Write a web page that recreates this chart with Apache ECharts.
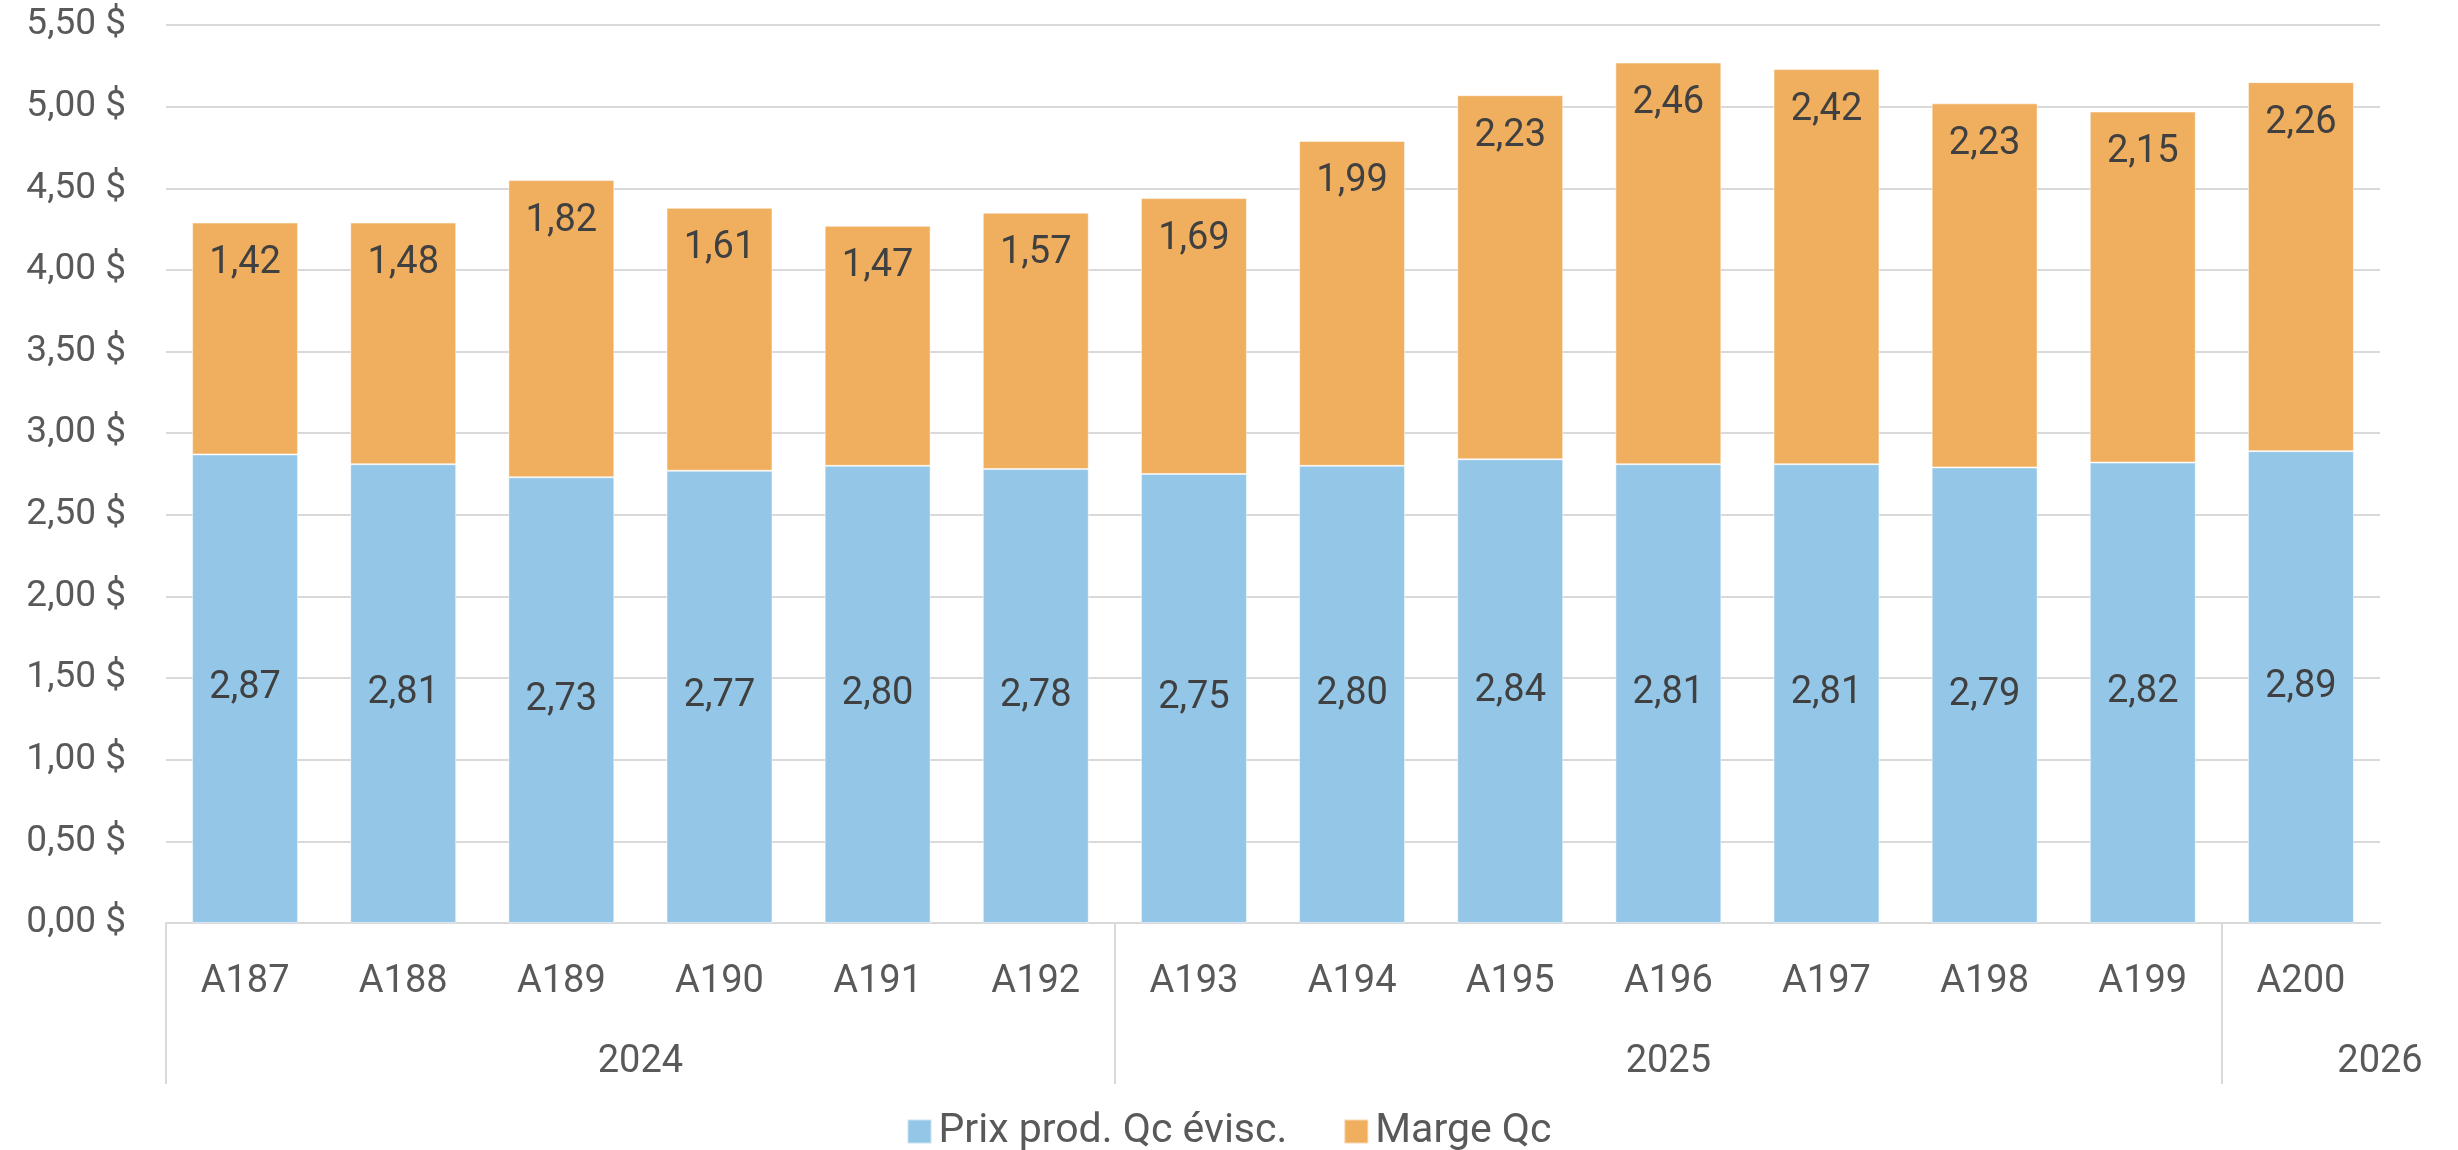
<!DOCTYPE html>
<html>
<head>
<meta charset="utf-8">
<script src="https://cdn.jsdelivr.net/npm/echarts@6/dist/echarts.min.js"></script>
<style>
html,body{margin:0;padding:0;background:#fff;}
#chart{width:2458px;height:1150px;}
</style>
</head>
<body>
<div id="chart"></div>
<script>
const categories = ['A187','A188','A189','A190','A191','A192','A193','A194','A195','A196','A197','A198','A199','A200'];
const prixProd = [2.87,2.81,2.73,2.77,2.80,2.78,2.75,2.80,2.84,2.81,2.81,2.79,2.82,2.89];
const marge = [1.42,1.48,1.82,1.61,1.47,1.57,1.69,1.99,2.23,2.46,2.42,2.23,2.15,2.26];
const groupNames = ['2024','2025','2026'];
const groupBoundaries = [0, 6, 13];
const groupLabelPositions = [3, 9.5, 14];
const seriesNames = ['Prix prod. Qc évisc.', 'Marge Qc'];

const FONT = 'Roboto, "Open Sans", sans-serif';
const fmt = v => v.toFixed(2).replace('.', ',');

const chart = echarts.init(document.getElementById('chart'), null, {renderer: 'canvas'});
chart.setOption({
  animation: false,
  textStyle: {fontFamily: FONT},
  grid: {left: 166, right: 78, top: 25, bottom: 227, containLabel: false},
  legend: {
    top: 1111,
    left: 'center',
    padding: 0,
    itemWidth: 24,
    itemHeight: 24,
    itemGap: 56,
    icon: 'rect',
    textStyle: {color: '#595959', fontSize: 41, fontFamily: FONT, padding: [0,0,0,2]},
    data: seriesNames
  },
  xAxis: [
    {
      type: 'category',
      data: categories,
      position: 'bottom',
      axisLine: {show: true, lineStyle: {color: '#d9d9d9', width: 2}},
      axisTick: {show: false},
      axisLabel: {color: '#595959', fontSize: 38, margin: 40, fontFamily: FONT},
      splitLine: {show: false}
    },
    {
      type: 'value',
      min: 0,
      max: 14,
      position: 'bottom',
      offset: 0,
      axisLine: {show: false},
      splitLine: {show: false},
      axisTick: {
        show: true,
        length: 161,
        customValues: groupBoundaries,
        lineStyle: {color: '#d9d9d9', width: 2}
      },
      axisLabel: {
        show: true,
        customValues: groupLabelPositions,
        margin: 120,
        color: '#595959',
        fontSize: 38,
        fontFamily: FONT,
        formatter: function (v) {
          const i = groupLabelPositions.indexOf(v);
          return i >= 0 ? groupNames[i] : '';
        }
      }
    }
  ],
  yAxis: {
    type: 'value',
    min: 0,
    max: 5.5,
    interval: 0.5,
    axisLine: {show: false},
    axisTick: {show: false},
    axisLabel: {color: '#595959', fontSize: 37, margin: 40, fontFamily: FONT, formatter: v => fmt(v) + ' $'},
    splitLine: {lineStyle: {color: '#d9d9d9', width: 2}}
  },
  series: [
    {
      name: seriesNames[0],
      type: 'bar',
      stack: 'total',
      xAxisIndex: 0,
      data: prixProd,
      barCategoryGap: '33%',
      itemStyle: {color: '#93C6E7', borderColor: 'rgba(255,255,255,0.5)', borderWidth: 1},
      label: {show: true, position: 'inside', color: '#404040', fontSize: 38, fontFamily: FONT, formatter: p => fmt(p.value)}
    },
    {
      name: seriesNames[1],
      type: 'bar',
      stack: 'total',
      xAxisIndex: 0,
      data: marge,
      barCategoryGap: '33%',
      itemStyle: {color: '#F0AF5F', borderColor: 'rgba(255,255,255,0.5)', borderWidth: 1},
      label: {show: true, position: 'insideTop', distance: 22, color: '#404040', fontSize: 38, fontFamily: FONT, formatter: p => fmt(p.value)}
    }
  ]
});
</script>
</body>
</html>
